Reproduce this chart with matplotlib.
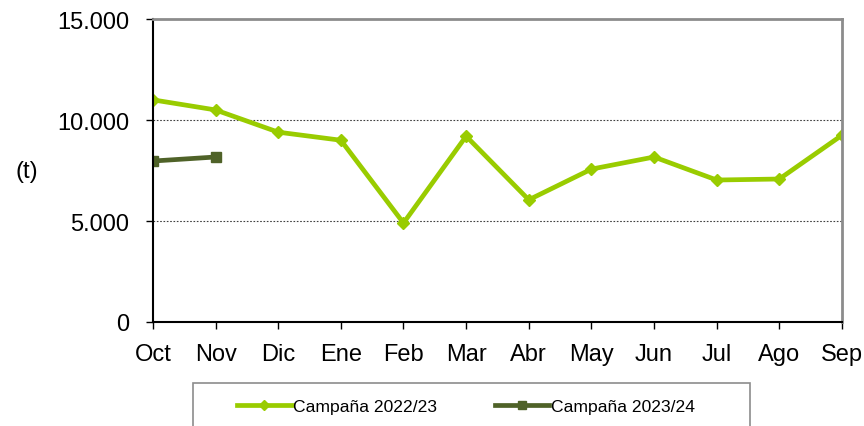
import matplotlib.pyplot as plt
from matplotlib.patches import Rectangle
from matplotlib.ticker import FuncFormatter

plt.rcParams['font.family'] = ['Liberation Sans', 'DejaVu Sans']

months = ['Oct', 'Nov', 'Dic', 'Ene', 'Feb', 'Mar', 'Abr', 'May', 'Jun', 'Jul', 'Ago', 'Sep']
camp_2223 = [11000, 10500, 9400, 9000, 4900, 9200, 6050, 7570, 8170, 7030, 7080, 9250]
camp_2324 = [7970, 8170]

fig = plt.figure(figsize=(8.64, 4.27), dpi=100)
ax = fig.add_axes([0.177, 0.2436, 0.7975, 0.7094])

x = list(range(len(months)))
ax.plot(x, camp_2223, color='#99CC00', lw=3.4, marker='D', ms=6,
        label='Campaña 2022/23')
ax.plot(x[:len(camp_2324)], camp_2324, color='#4F6228', lw=3.4, marker='s', ms=7,
        label='Campaña 2023/24')

ax.set_xlim(0, 11)
ax.set_ylim(0, 15000)
ax.set_xticks(x)
ax.set_xticklabels(months)
ax.set_yticks([0, 5000, 10000, 15000])
ax.yaxis.set_major_formatter(FuncFormatter(lambda v, p: f'{int(v):,}'.replace(',', '.')))
ax.tick_params(axis='both', labelsize=17, direction='out', length=5, width=1)
ax.tick_params(axis='y', pad=12)
ax.tick_params(axis='x', pad=10)

for v in [5000, 10000]:
    ax.axhline(v, color='#404040', lw=0.8, ls=(0, (1.5, 1.5)), zorder=0)

ax.spines['left'].set_color('black')
ax.spines['bottom'].set_color('black')
ax.spines['left'].set_linewidth(1.5)
ax.spines['bottom'].set_linewidth(1.5)
for s in ['top', 'right']:
    ax.spines[s].set_color('#8C8C8C')
    ax.spines[s].set_linewidth(2)

fig.text(0.0185, 0.597, '(t)', fontsize=17, va='center', ha='left')

# legend box at bottom, running off the figure edge
fig.patches.append(Rectangle((0.2234, -0.05), 0.6446, 0.1507, transform=fig.transFigure,
                             facecolor='none', edgecolor='#8C8C8C', lw=1.2))
leg = fig.legend(loc='center', bbox_to_anchor=(0.5395, 0.046), ncol=2, frameon=False,
                 fontsize=12.6, handlelength=3.1, handletextpad=0.1, columnspacing=3.3,
                 markerscale=0.8)

fig.savefig('out.png', dpi=100)
